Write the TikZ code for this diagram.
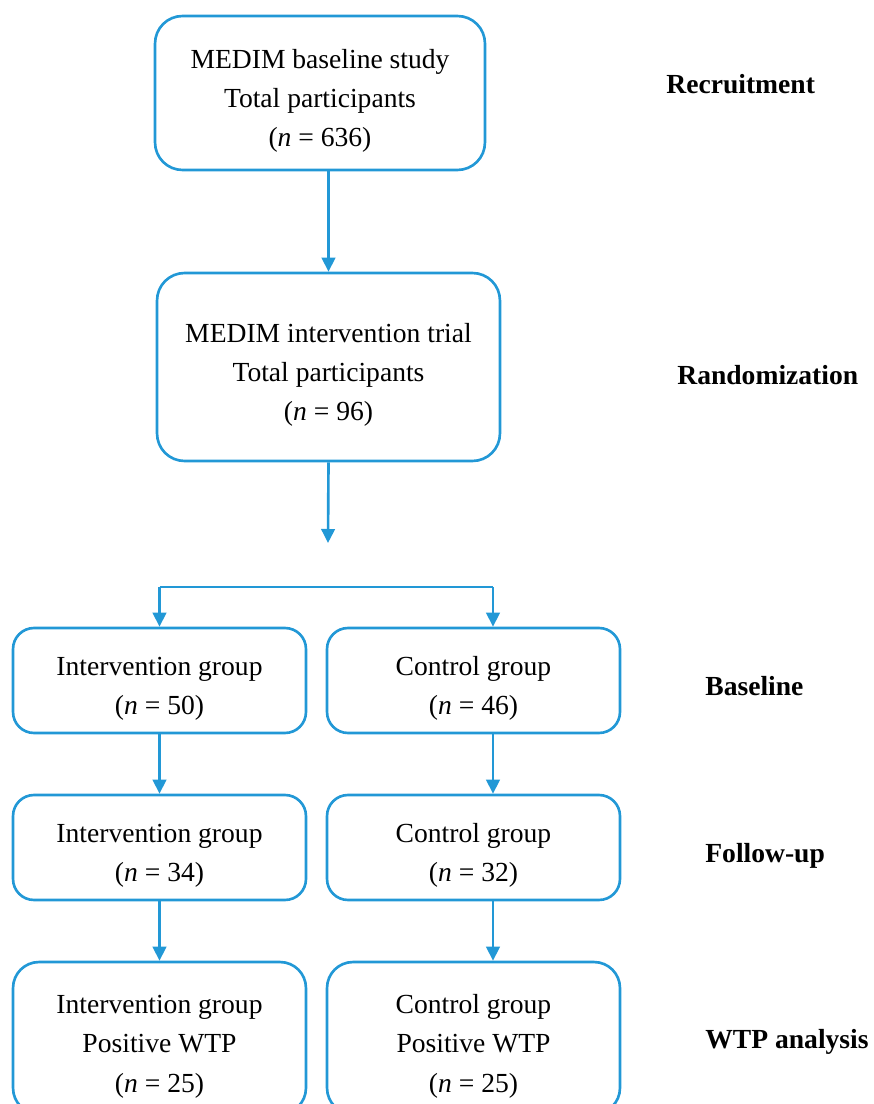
\documentclass[tikz,border=0pt]{standalone}
\usepackage{fontspec}
\setmainfont{Liberation Serif}
\usepackage{xcolor}
\usetikzlibrary{arrows.meta, positioning}

\definecolor{flowblue}{RGB}{34,152,214}
\newcommand{\topgap}{\rule{0pt}{20pt}}

\begin{document}
\begin{tikzpicture}[
    x=0.02cm, y=-0.02cm,
    box/.style={rectangle, rounded corners=0.5cm, draw=flowblue, line width=1.5pt, align=center, text centered, font=\fontsize{15.7pt}{22.4pt}\selectfont},
    bigbox/.style={box, minimum width=6.6cm, minimum height=3.08cm, rounded corners=0.55cm},
    groupbox/.style={box, minimum width=5.86cm, minimum height=2.1cm, rounded corners=0.42cm},
    wtpbox/.style={box, minimum width=5.86cm, minimum height=3.04cm, rounded corners=0.52cm},
    stage/.style={anchor=base west, inner sep=0pt, font=\fontsize{15.7pt}{22.4pt}\selectfont\bfseries},
    arrow/.style={draw=flowblue, line width=1.5pt, -{Triangle[length=0.28cm, width=0.27cm]}},
    link/.style={draw=flowblue, line width=1.5pt}
]
    \useasboundingbox (0,0) rectangle (873,1104);

    % Recruitment
    \node[bigbox] (baseline) at (320,93) {\topgap MEDIM baseline study\\Total participants\\(\textit{n} = 636)};

    % Randomization
    \node[bigbox, minimum width=6.86cm, minimum height=3.76cm] (trial) at (328.5,367) {\topgap MEDIM intervention trial\\Total participants\\(\textit{n} = 96)};

    % Split
    \coordinate (splitend) at (328,543);
    \coordinate (splitleft) at (159.5,587);
    \coordinate (splitright) at (493,587);

    % Baseline groups
    \node[groupbox] (intbase) at (159.5,680.5) {\topgap Intervention group\\(\textit{n} = 50)};
    \node[groupbox] (conbase) at (473.5,680.5) {\topgap Control group\\(\textit{n} = 46)};

    % Follow-up groups
    \node[groupbox] (intfollow) at (159.5,847.5) {\topgap Intervention group\\(\textit{n} = 34)};
    \node[groupbox] (confollow) at (473.5,847.5) {\topgap Control group\\(\textit{n} = 32)};

    % WTP groups
    \node[wtpbox] (intwtp) at (159.5,1038) {\topgap Intervention group\\Positive WTP\\(\textit{n} = 25)};
    \node[wtpbox] (conwtp) at (473.5,1038) {\topgap Control group\\Positive WTP\\(\textit{n} = 25)};

    % Stage labels
    \node[stage] (recruit) at (666,94) {Recruitment};
    \node[stage] (random) at (677,384) {Randomization};
    \node[stage] (basestage) at (705,695) {Baseline};
    \node[stage] (followstage) at (705,862) {Follow-up};
    \node[stage] (wtpstage) at (705,1048) {WTP analysis};

    % Arrows
    \draw[arrow] (trial.north |- baseline.south) -- (trial.north);
    \draw[arrow] (trial.south) -- (splitend);
    \draw[link] (splitleft) -- (splitright);
    \draw[arrow] (splitleft) -- (intbase.north);
    \draw[arrow] (splitright) -- (splitright |- conbase.north);
    \draw[arrow] (intbase) -- (intfollow);
    \draw[arrow] (splitright |- conbase.south) -- (splitright |- confollow.north);
    \draw[arrow] (intfollow) -- (intwtp);
    \draw[arrow] (splitright |- confollow.south) -- (splitright |- conwtp.north);

\end{tikzpicture}
\end{document}
